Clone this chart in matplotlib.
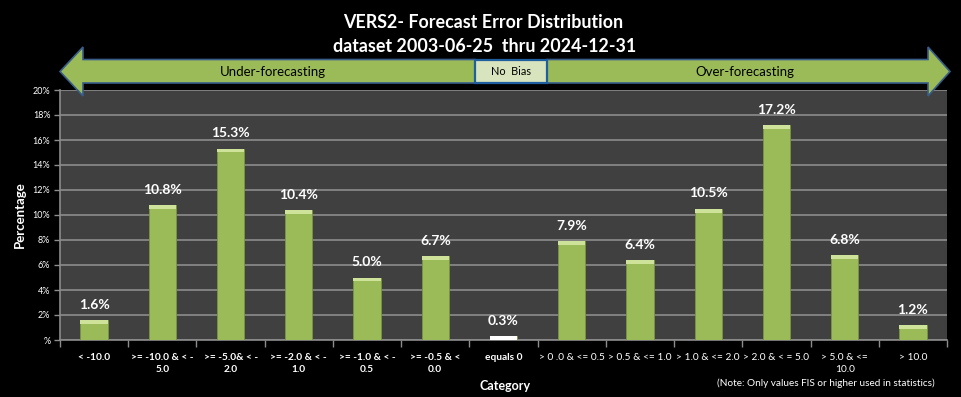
import matplotlib
matplotlib.use("Agg")
import matplotlib.pyplot as plt
from matplotlib.patches import Polygon, Rectangle
import numpy as np

categories = ["< -10.0", ">= -10.0 & < -\n5.0", ">= -5.0& < -\n2.0", ">= -2.0 & < -\n1.0",
              ">= -1.0 & < -\n0.5", ">= -0.5 & <\n0.0", "equals 0", "> 0 .0 & <= 0.5",
              "> 0.5 & <= 1.0", "> 1.0 & <= 2.0", "> 2.0 & < = 5.0", "> 5.0 & <=\n10.0", "> 10.0"]
values = [1.6, 10.8, 15.3, 10.4, 5.0, 6.7, 0.3, 7.9, 6.4, 10.5, 17.2, 6.8, 1.2]
value_labels = ["1.6%", "10.8%", "15.3%", "10.4%", "5.0%", "6.7%", "0.3%", "7.9%", "6.4%",
                "10.5%", "17.2%", "6.8%", "1.2%"]
yticks = [0, 2, 4, 6, 8, 10, 12, 14, 16, 18, 20]
ytick_labels = ["%", "2%", "4%", "6%", "8%", "10%", "12%", "14%", "16%", "18%", "20%"]

FONT = ["Lato", "DejaVu Sans"]
W, H = 961, 397
fig = plt.figure(figsize=(W / 100, H / 100), dpi=100, facecolor="black")

ax = fig.add_axes([60 / W, 1 - 340 / H, (947 - 60) / W, (340 - 90) / H])
ax.set_facecolor("#404040")
x = np.arange(len(values))
colors = ["#F2F2F2" if c == "equals 0" else "#9BBB59" for c in categories]
ax.bar(x, values, width=0.4, color=colors, edgecolor="#7A9440", linewidth=0.6, zorder=3)
# bevel highlight on top
top_colors = ["#FFFFFF" if c == "equals 0" else "#CFE29A" for c in categories]
ax.bar(x, [min(0.3, v) for v in values], bottom=[v - min(0.3, v) for v in values],
       width=0.4, color=top_colors, linewidth=0, zorder=4)
for xi, v, lab in zip(x, values, value_labels):
    ax.text(xi, v + 0.75, lab, ha="center", va="bottom", color="white",
            fontsize=10, fontweight="bold", family=FONT)

ax.set_xlim(-0.5, len(values) - 0.5)
ax.set_ylim(0, 20)
ax.set_yticks(yticks)
ax.set_yticklabels(ytick_labels, color="white", fontsize=6.5, family=FONT)
ax.yaxis.grid(True, color="#8C8C8C", linewidth=1.2, zorder=1)
ax.set_axisbelow(True)
ax.set_xticks(x)
ax.set_xticklabels(categories, color="white", fontsize=7.3, family=FONT, linespacing=1.55)
for i, t in enumerate(ax.get_xticklabels()):
    if i <= 6:
        t.set_fontweight("bold")
ax.tick_params(axis="x", length=0, pad=9)
ax.set_xticks(np.arange(len(values) + 1) - 0.5, minor=True)
ax.tick_params(axis="x", which="minor", length=5, color="#8C8C8C", width=1)
ax.tick_params(axis="y", length=4, color="#8C8C8C", width=1, pad=3)
for s in ["top", "right"]:
    ax.spines[s].set_visible(False)
for s in ["left", "bottom"]:
    ax.spines[s].set_color("#8C8C8C")
    ax.spines[s].set_linewidth(1.2)

ax.set_ylabel("Percentage", color="white", fontsize=9.5, fontweight="bold", family=FONT, labelpad=5)

# overlay in pixel coords
ov = fig.add_axes([0, 0, 1, 1], facecolor="none")
ov.set_xlim(0, W)
ov.set_ylim(H, 0)
ov.axis("off")

fill = "#9BBB59"
edge = "#385D8A"
left_arrow = [(60, 71.5), (83, 47), (83, 59.5), (475, 59.5), (475, 83), (83, 83), (83, 96)]
right_arrow = [(547, 59.5), (928, 59.5), (928, 47), (950, 71.5), (928, 96), (928, 83), (547, 83)]
ov.add_patch(Polygon(left_arrow, closed=True, facecolor=fill, edgecolor=edge, linewidth=1.2, zorder=5))
ov.add_patch(Polygon(right_arrow, closed=True, facecolor=fill, edgecolor=edge, linewidth=1.2, zorder=5))
ov.add_patch(Rectangle((475, 59.5), 72, 23, facecolor="#D7E4BD", edgecolor="#1F5FA0", linewidth=1.6, zorder=6))
ov.text(511, 71.5, "No  Bias", ha="center", va="center", fontsize=7.8, color="black", family=FONT, zorder=7)
ov.text(273, 71.5, "Under-forecasting", ha="center", va="center", fontsize=9.5, color="black", family=FONT, zorder=7)
ov.text(745, 71.5, "Over-forecasting", ha="center", va="center", fontsize=9.5, color="black", family=FONT, zorder=7)

ov.text(483, 22, "VERS2- Forecast Error Distribution", ha="center", va="center", fontsize=12.9,
        fontweight="bold", color="white", family=FONT)
ov.text(485, 47, "dataset 2003-06-25  thru 2024-12-31", ha="center", va="center", fontsize=12.9,
        fontweight="bold", color="white", family=FONT)
ov.text(505, 386, "Category", ha="center", va="center", fontsize=9, fontweight="bold",
        color="white", family=FONT)
ov.text(826, 383, "(Note: Only values FIS or higher used in statistics)", ha="center", va="center",
        fontsize=7.2, color="white", family=FONT)

fig.savefig("out.png", dpi=100, facecolor="black")
